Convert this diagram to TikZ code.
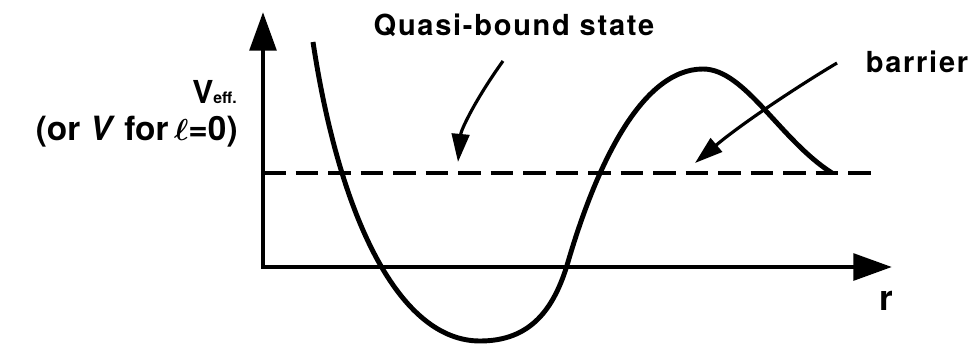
\documentclass[tikz,border=0pt]{standalone}
\usepackage{fontspec}
\setmainfont{TeX Gyre Heros}
\usetikzlibrary{arrows.meta}
\usetikzlibrary{positioning}

\tikzset{
  axis/.style={line width=2.8pt,{Triangle[length=22pt,width=15pt]}-{Triangle[length=22pt,width=15pt]}},
  pointer/.style={line width=1.8pt,-{Triangle[length=16pt,width=10pt]}},
  level/.style={line width=2.3pt,dash pattern=on 13pt off 5.5pt},
  lbl/.style={font=\fontsize{16.5}{18}\selectfont\bfseries\addfontfeatures{LetterSpace=6},inner sep=0pt}
}

\begin{document}
\begin{tikzpicture}[x=0.02cm,y=-0.02cm]
\useasboundingbox (0,0) rectangle (970,345);
% axes
\coordinate (O) at (263,267);
\coordinate (ytop) at (263,12);
\coordinate (xend) at (892,267);
\draw[axis] (ytop) -- (O) -- (xend);
% energy of the quasi-bound state
\coordinate (lvlA) at (263,173);
\coordinate (lvlB) at (873,173);
\draw[level] (lvlA) -- (lvlB);
% potential
\draw[line width=2.8pt] (313,42) .. controls (340,220) and (400,341) .. (480,341)
  .. controls (530,341) and (554,310) .. (568,262)
  .. controls (595,170) and (640,69) .. (703,69)
  .. controls (745,69) and (780,140) .. (832,173);
% labels
\node[lbl,anchor=base] (quasi) at (514,35) {Quasi-bound state};
\node[lbl,anchor=base] (barrier) at (917,72) {barrier};
\node[inner sep=0pt,anchor=base east] (veff) at (237,103) {{\fontsize{18}{20}\selectfont\bfseries V}{\fontsize{9}{10}\selectfont\bfseries eff.}};
\node[inner sep=0pt,anchor=base east,font=\fontsize{19}{21}\selectfont\bfseries] (orv) at (238,140) {(or \textit{V} for\,{\boldmath$\ell$}=0)};
\node[inner sep=0pt,anchor=base,font=\fontsize{20}{22}\selectfont\bfseries] (r) at (886,310) {r};
% pointers
\coordinate (quasiA) at (503,61);
\coordinate (quasiB) at (458,162);
\draw[pointer] (quasiA) .. controls (475,100) and (461,130) .. (quasiB);
\coordinate (barA) at (837,63);
\coordinate (barB) at (695,163);
\draw[pointer] (barA) .. controls (795,88) and (740,125) .. (barB);
\end{tikzpicture}
\end{document}
